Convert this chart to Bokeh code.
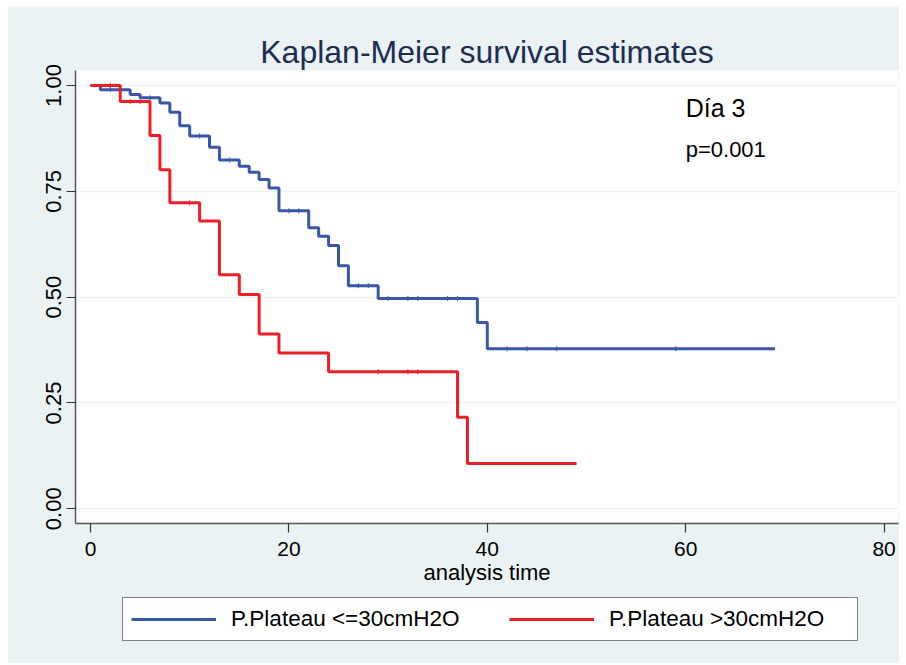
import numpy as np
from bokeh.plotting import figure
from bokeh.layouts import column
from bokeh.models import (Range1d, FixedTicker, NumeralTickFormatter, Legend,
                          LegendItem, Title)
from bokeh.core.properties import value
from bokeh.embed import file_html
from bokeh.resources import INLINE

# ---------------- data ----------------
blue_label = "P.Plateau <=30cmH2O"
blue_t = [0, 1, 4, 5, 7, 8, 9, 10, 12, 13, 15, 16, 17, 18, 19, 22, 23, 24, 25, 26, 29, 39, 40]
blue_s = [1.0, 0.990, 0.979, 0.971, 0.959, 0.937, 0.905, 0.881, 0.854, 0.824, 0.809, 0.795,
          0.778, 0.758, 0.704, 0.664, 0.644, 0.622, 0.574, 0.527, 0.497, 0.440, 0.378]
blue_end = 69
blue_cens = [2, 6, 11, 14, 20, 21, 27, 28, 30, 32, 33, 36, 37, 42, 44, 47, 59]

red_label = "P.Plateau >30cmH2O"
red_t = [0, 3, 6, 7, 8, 11, 13, 15, 17, 19, 24, 37, 38]
red_s = [1.0, 0.962, 0.882, 0.801, 0.723, 0.680, 0.553, 0.506, 0.413, 0.368, 0.324, 0.216, 0.107]
red_end = 49
red_cens = [2, 4, 5, 10, 29, 32, 33]

x_ticks = [0, 20, 40, 60, 80]
y_ticks = [0.0, 0.25, 0.50, 0.75, 1.0]

title_text = "Kaplan-Meier survival estimates"
x_label = "analysis time"
note1 = "Día 3"
note2 = "p=0.001"

# ---------------- style ----------------
BG = "#EAF2F3"
BLUE = "#3A56A6"
RED = "#EE1E27"
FONT = "Liberation Sans"

def surv_at(times, surv, t):
    i = np.searchsorted(np.array(times), t, side="right") - 1
    return float(surv[i])

blue_x = blue_t + [blue_end]
blue_y = blue_s + [blue_s[-1]]
red_x = red_t + [red_end]
red_y = red_s + [red_s[-1]]

p = figure(width=891, height=583, output_backend="svg", toolbar_location=None,
           x_range=Range1d(-1.51, 81.45), y_range=Range1d(-0.0348, 1.0355),
           min_border_left=67, min_border_right=1, min_border_top=63,
           min_border_bottom=67)
p.background_fill_color = "white"
p.border_fill_color = BG
p.outline_line_color = None

p.title = Title(text=title_text, align="center", text_font=FONT,
                text_font_size="32px", text_font_style="normal",
                text_color="#1E2D52", standoff=2)

# grid
p.xgrid.visible = False
p.ygrid.ticker = FixedTicker(ticks=y_ticks)
p.ygrid.grid_line_color = BG
p.ygrid.grid_line_width = 1.6

# axes
for ax in (p.xaxis[0], p.yaxis[0]):
    ax.axis_line_color = "#555555"
    ax.axis_line_width = 1.5
    ax.major_tick_line_color = "#333333"
    ax.major_tick_line_width = 1.2
    ax.major_tick_out = 9
    ax.major_tick_in = 0
    ax.minor_tick_line_color = None
    ax.major_label_text_font = FONT
    ax.major_label_text_font_size = "21px"
    ax.major_label_text_color = "black"

p.xaxis.ticker = FixedTicker(ticks=x_ticks)
p.yaxis.ticker = FixedTicker(ticks=y_ticks)
p.yaxis.formatter = NumeralTickFormatter(format="0.00")
p.yaxis.major_label_orientation = "vertical"
p.yaxis.major_label_standoff = 5
p.yaxis.major_label_text_font_size = "22px"
p.xaxis.major_label_standoff = 9
p.xaxis.axis_label = x_label
p.xaxis.axis_label_text_font = FONT
p.xaxis.axis_label_text_font_size = "22px"
p.xaxis.axis_label_text_font_style = "normal"
p.xaxis.axis_label_text_color = "black"
p.xaxis.axis_label_standoff = 1

# curves
p.step(blue_x, blue_y, mode="after", line_color=BLUE, line_width=3)
p.step(red_x, red_y, mode="after", line_color=RED, line_width=3)

# censoring ticks
p.scatter(blue_cens, [surv_at(blue_t, blue_s, t) for t in blue_cens],
          marker="dash", angle=np.pi / 2, size=5, line_color=BLUE, line_width=1)
p.scatter(red_cens, [surv_at(red_t, red_s, t) for t in red_cens],
          marker="dash", angle=np.pi / 2, size=5, line_color=RED, line_width=1)

# annotations
p.text(x=[60], y=[0.946], text=[note1], text_font=value(FONT),
       text_font_size="25px", text_color="black", text_baseline="alphabetic")
p.text(x=[60], y=[0.849], text=[note2], text_font=value(FONT),
       text_font_size="22px", text_color="black", text_baseline="alphabetic")

# legend strip (separate figure below the main one; its curves lie outside its view)
p2 = figure(width=891, height=73, output_backend="svg", toolbar_location=None,
            x_range=Range1d(1000, 1001), y_range=Range1d(1000, 1001),
            x_axis_location=None, y_axis_location=None,
            min_border_left=0, min_border_right=0, min_border_top=0,
            min_border_bottom=0)
p2.background_fill_color = BG
p2.border_fill_color = BG
p2.outline_line_color = None
p2.xgrid.visible = False
p2.ygrid.visible = False
lb = p2.step(blue_x, blue_y, mode="after", line_color=BLUE, line_width=3)
lr = p2.step(red_x, red_y, mode="after", line_color=RED, line_width=3)

legend = Legend(items=[LegendItem(label=blue_label, renderers=[lb]),
                       LegendItem(label=red_label, renderers=[lr])],
                orientation="horizontal", location=(47, 22))
legend.label_text_font = FONT
legend.label_text_font_size = "22.5px"
legend.label_text_color = "black"
legend.glyph_width = 85
legend.glyph_height = 22
legend.label_standoff = 15
legend.label_width = 240
legend.spacing = 38
legend.padding = 8
legend.margin = 0
legend.border_line_color = "black"
legend.border_line_width = 1
legend.background_fill_color = "white"
legend.background_fill_alpha = 1.0
p2.add_layout(legend)

layout = column(p, p2, spacing=0)
layout.margin = (7, 0, 0, 8)
layout.styles = {"background-color": BG}

open("out.html", "w").write(file_html(layout, INLINE))
